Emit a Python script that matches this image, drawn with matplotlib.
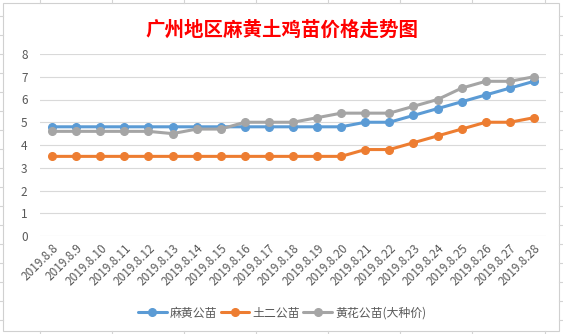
import matplotlib
matplotlib.use("Agg")
import matplotlib.pyplot as plt
from matplotlib.lines import Line2D
from matplotlib.patches import Rectangle

plt.rcParams['font.family'] = ['Noto Sans CJK SC', 'DejaVu Sans']

dates = ["2019.8.8", "2019.8.9", "2019.8.10", "2019.8.11", "2019.8.12", "2019.8.13",
         "2019.8.14", "2019.8.15", "2019.8.16", "2019.8.17", "2019.8.18", "2019.8.19",
         "2019.8.20", "2019.8.21", "2019.8.22", "2019.8.23", "2019.8.24", "2019.8.25",
         "2019.8.26", "2019.8.27", "2019.8.28"]
mahuang = [4.8, 4.8, 4.8, 4.8, 4.8, 4.8, 4.8, 4.8, 4.8, 4.8, 4.8, 4.8, 4.8,
           5.0, 5.0, 5.3, 5.6, 5.9, 6.2, 6.5, 6.8]
tuer = [3.5, 3.5, 3.5, 3.5, 3.5, 3.5, 3.5, 3.5, 3.5, 3.5, 3.5, 3.5, 3.5,
        3.8, 3.8, 4.1, 4.4, 4.7, 5.0, 5.0, 5.2]
huanghua = [4.6, 4.6, 4.6, 4.6, 4.6, 4.5, 4.7, 4.7, 5.0, 5.0, 5.0, 5.2, 5.4,
            5.4, 5.4, 5.7, 6.0, 6.5, 6.8, 6.8, 7.0]
series_names = ["麻黄公苗", "土二公苗", "黄花公苗(大种价)"]
colors = ["#5B9BD5", "#ED7D31", "#A5A5A5"]
title = "广州地区麻黄土鸡苗价格走势图"

W, H = 563, 334
fig = plt.figure(figsize=(W / 100, H / 100), dpi=100)

# Excel worksheet gridlines peeking out around the chart
gc = "#D4D4D4"
for y in range(16, 334, 19):
    fig.add_artist(Line2D([0, 3 / W], [1 - y / H] * 2, color=gc, lw=0.8))
    fig.add_artist(Line2D([559 / W, 1], [1 - y / H] * 2, color=gc, lw=0.8))
for x in [40, 112, 184, 256, 328, 400, 472, 545]:
    fig.add_artist(Line2D([x / W] * 2, [1, 1 - 3 / H], color=gc, lw=0.8))
    fig.add_artist(Line2D([x / W] * 2, [0, 3 / H], color=gc, lw=0.8))
fig.add_artist(Rectangle((3 / W, 3 / H), 556 / W, 328 / H, fill=False,
                         edgecolor="#D0D0D0", lw=0.8, transform=fig.transFigure))

ax = fig.add_axes([40 / W, (334 - 236) / H, (546 - 40) / W, (236 - 54) / H])
x = list(range(len(dates)))
for vals, name, c in zip([mahuang, tuer, huanghua], series_names, colors):
    ax.plot(x, vals, color=c, lw=2.2, marker='o', markersize=5.5, label=name,
            solid_capstyle='round')

ax.set_xlim(-0.5, len(dates) - 0.5)
ax.set_ylim(0, 8)
ax.set_yticks(range(0, 9))
ax.grid(axis='y', color="#D9D9D9", lw=0.8)
ax.set_axisbelow(True)
for s in ax.spines.values():
    s.set_visible(False)
ax.tick_params(axis='both', length=0, colors="#595959", labelsize=8.5)
ax.tick_params(axis='y', pad=9)
ax.set_xticks(x)
ax.set_xticklabels(dates, rotation=45, ha='right', rotation_mode='anchor')
ax.tick_params(axis='x', pad=4)

fig.text(282 / W, 1 - 30 / H, title, color="red", fontsize=14, fontweight='bold',
         ha='center', va='center')

leg = fig.legend(loc='center', bbox_to_anchor=(282 / W, 1 - 313 / H), ncol=3,
                 frameon=False, fontsize=8.6, handlelength=2.4, columnspacing=0.3,
                 handletextpad=0.25, labelcolor="#595959")

fig.savefig("out.png", dpi=100)
